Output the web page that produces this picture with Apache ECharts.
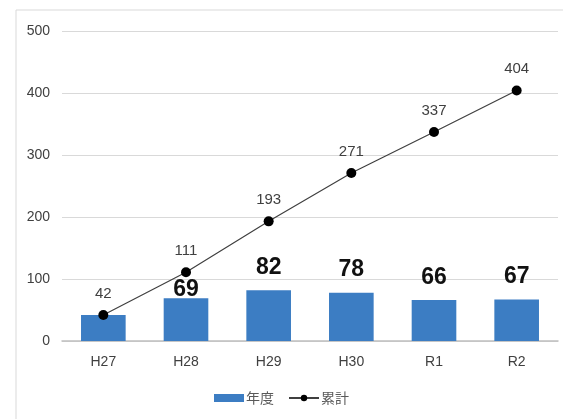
<!DOCTYPE html>
<html><head><meta charset="utf-8">
<script src="https://cdn.jsdelivr.net/npm/echarts@6/dist/echarts.min.js"></script>
<style>html,body{margin:0;padding:0;background:#fff}#c{width:563px;height:419px}</style>
</head><body><div id="c"></div>
<script>
const categories = ['H27','H28','H29','H30','R1','R2'];
const yearly = [42, 69, 82, 78, 66, 67];
const cumulative = [42, 111, 193, 271, 337, 404];
const yTicks = [0, 100, 200, 300, 400, 500];

const chart = echarts.init(document.getElementById('c'), null, {renderer:'canvas'});
const font = '"Liberation Sans Narrow", "Liberation Sans", Arial, sans-serif';
const narrow = '"Liberation Sans Narrow", "Liberation Sans", Arial, sans-serif';

const barData = yearly.map((v, i) => {
  const item = { value: v };
  if (i === 0) item.label = { show: false };
  if (i === 1) item.label = { distance: -3 };
  return item;
});

chart.setOption({
  animation: false,
  graphic: [{
    type: 'rect', shape: { x: 16, y: 10, width: 560, height: 440 },
    style: { fill: 'none', stroke: '#d9d9d9', lineWidth: 1 }, silent: true, z: -1
  }],
  grid: { left: 62, right: 5, top: 31, bottom: 78 },
  legend: {
    bottom: 9, left: 'center', itemGap: 14,
    textStyle: { fontFamily: '"Noto Sans CJK JP", sans-serif', fontSize: 14, color: '#595959', padding: [0, 0, 0, -3] },
    data: [
      { name: '年度', icon: 'rect', itemStyle: { color: '#3c7dc3' } },
      { name: '累計' }
    ],
    itemWidth: 30, itemHeight: 8
  },
  xAxis: {
    type: 'category', data: categories,
    axisLine: { lineStyle: { color: '#bfbfbf', width: 1.5 } },
    axisTick: { show: false },
    axisLabel: { fontFamily: '"Liberation Sans", Arial, sans-serif', fontSize: 14, color: '#404040', margin: 14 }
  },
  yAxis: {
    type: 'value', min: 0, max: 500, interval: 100,
    axisLine: { show: false }, axisTick: { show: false },
    splitLine: { lineStyle: { color: '#d9d9d9', width: 1 } },
    axisLabel: {
      fontFamily: '"Liberation Sans", Arial, sans-serif', fontSize: 14, color: '#404040', margin: 12,
      formatter: v => yTicks.includes(v) ? String(v) : ''
    }
  },
  series: [
    {
      name: '年度', type: 'bar', data: barData, barWidth: '54%',
      itemStyle: { color: '#3c7dc3' },
      label: {
        show: true, position: 'top', distance: 11,
        fontFamily: narrow, fontWeight: 'bold', fontSize: 23, color: '#111'
      }
    },
    {
      name: '累計', type: 'line', data: cumulative,
      symbol: 'circle', symbolSize: 10,
      lineStyle: { color: '#404040', width: 1.2 },
      itemStyle: { color: '#000' },
      label: {
        show: true, position: 'top', distance: 9,
        fontFamily: font, fontSize: 15, color: '#404040'
      },
      z: 5
    }
  ]
});
</script></body></html>
